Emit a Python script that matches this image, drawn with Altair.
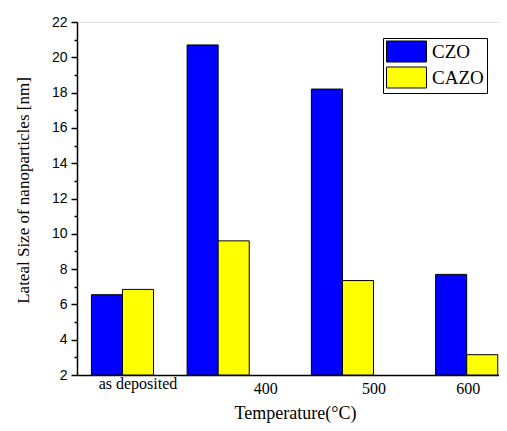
import altair as alt
import pandas as pd

groups = ["as deposited", "400", "500", "600"]
temps = [323, 400, 500, 600]
czo = [6.55, 20.7, 18.2, 7.7]
cazo = [6.85, 9.6, 7.35, 3.15]
series = ["CZO", "CAZO"]
colors = ["#0000FF", "#FFFF00"]

rows = []
for g, t, a, b in zip(groups, temps, czo, cazo):
    rows.append({"group": g, "temp": t, "series": "CZO", "value": a})
    rows.append({"group": g, "temp": t, "series": "CAZO", "value": b})
df = pd.DataFrame(rows)

label_map = "{" + ",".join(f"'{t}':'{g}'" for t, g in zip(temps, groups)) + "}"

x_axis = alt.Axis(
    values=temps,
    labelExpr=f"{label_map}[datum.value]",
    ticks=False,
    grid=False,
    domainColor="black",
    domainWidth=1.5,
    labelFont="Liberation Serif",
    labelFontSize=16,
    labelColor="black",
    labelBaseline="top",
    labelPadding={"condition": {"test": "datum.value == 323", "value": 0}, "value": 5},
    labelOffset={"condition": [
        {"test": "datum.value == 323", "value": 15},
        {"test": "datum.value == 400", "value": 47},
        {"test": "datum.value == 500", "value": 31},
    ], "value": 1},
    title="Temperature(°C)",
    titleFont="Liberation Serif",
    titleFontSize=18,
    titleFontWeight="normal",
    titleColor="black",
    titleX=218,
    titleY=38,
    titleBaseline="middle",
    titleAlign="center",
)

y_axis = alt.Axis(
    values=list(range(2, 23)),
    labelExpr="datum.value % 2 === 0 ? datum.label : ''",
    tickSize={"condition": {"test": "datum.value % 2 === 0", "value": 6}, "value": 3},
    tickColor="black",
    tickWidth=1.5,
    grid=False,
    domainColor="black",
    domainWidth=1.5,
    labelFont="Liberation Sans",
    labelFontSize=14,
    labelColor="black",
    labelPadding=4,
    title="Lateal Size of nanoparticles [nm]",
    titleFont="Liberation Serif",
    titleFontSize=17,
    titleFontWeight="normal",
    titleColor="black",
    titleAngle=-90,
    titleX=-54,
    titleY=168,
    titleAlign="center",
    titleBaseline="middle",
)

legend = alt.Legend(
    title=None,
    orient="none",
    legendX=306,
    legendY=16,
    padding=3,
    strokeColor="black",
    fillColor="white",
    symbolType="M-1,-1.05 H3 V1.05 H-1 Z",
    symbolSize=400,
    symbolStrokeColor="black",
    symbolStrokeWidth=1,
    symbolOpacity=1,
    rowPadding=1,
    labelFont="Liberation Serif",
    labelFontSize=19,
    labelColor="black",
    labelOffset=25,
)

chart = alt.Chart(df).transform_calculate(
    x0="datum.series == 'CZO' ? datum.temp - 25 : datum.temp",
    x1="datum.series == 'CZO' ? datum.temp : datum.temp + 25",
).mark_bar(stroke="black", strokeWidth=1, opacity=1).encode(
    x=alt.X("x0:Q", scale=alt.Scale(domain=[286.4, 626], nice=False, zero=False), axis=x_axis),
    x2="x1:Q",
    y=alt.Y("value:Q", scale=alt.Scale(domain=[2, 22], nice=False, zero=False), axis=y_axis),
    y2=alt.datum(2),
    color=alt.Color("series:N", scale=alt.Scale(domain=series, range=colors), legend=legend),
).properties(
    width=422,
    height=353,
    autosize=alt.AutoSizeParams(type="none"),
    padding={"left": 69, "top": 14, "right": 0, "bottom": 48},
).configure_view(stroke=None).configure(background="white")

chart.save("out.html", embed_options={"renderer": "svg", "actions": False})
